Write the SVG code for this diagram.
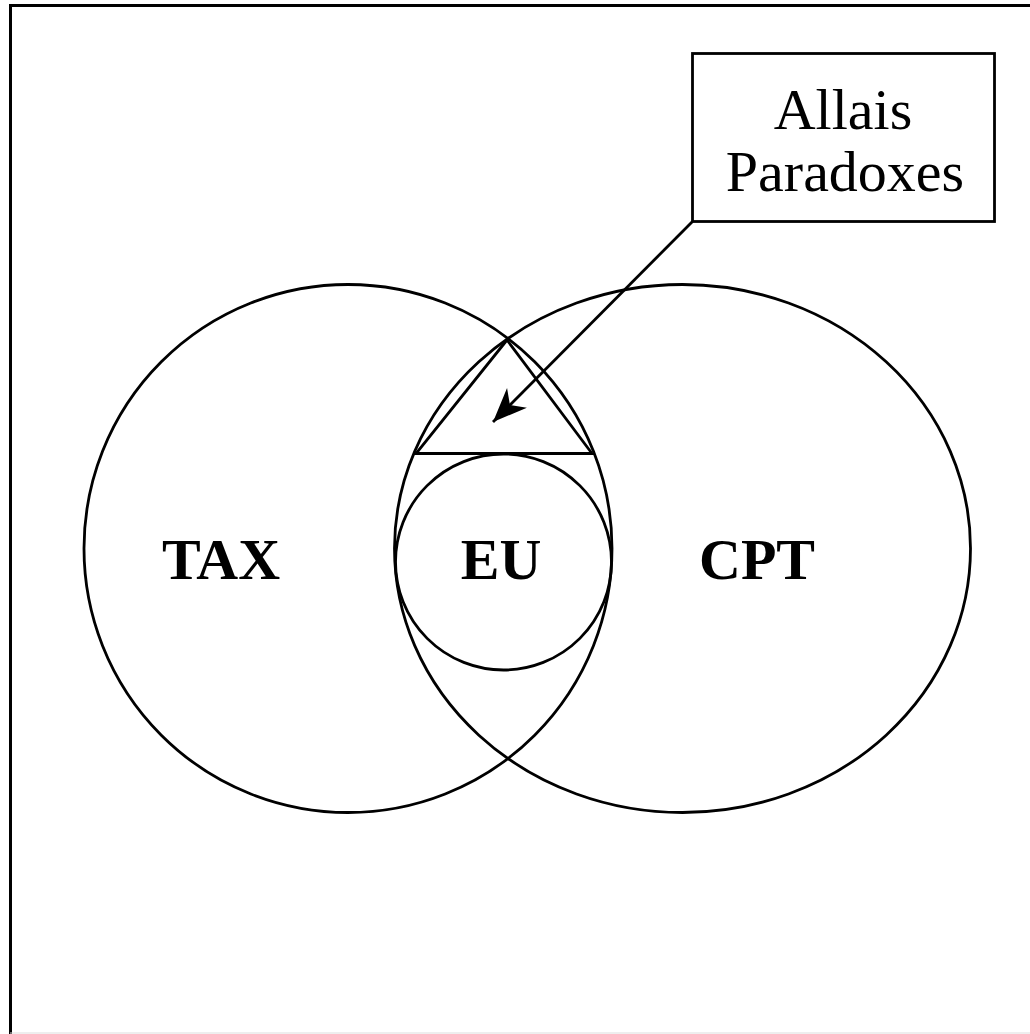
<svg xmlns="http://www.w3.org/2000/svg" width="1030" height="1034" viewBox="0 0 1030 1034">
<defs>
<style>
.ln{fill:none;stroke:#000;stroke-width:2.8}
.lbl{font-family:"Liberation Serif","Times New Roman",serif;font-size:58px;fill:#000;text-anchor:middle}
.big{font-family:"Liberation Serif","Times New Roman",serif;font-size:58px;font-weight:bold;fill:#000;text-anchor:middle}
</style>
<marker id="ah" markerWidth="36" markerHeight="30" refX="34" refY="14" orient="auto" markerUnits="userSpaceOnUse">
<path d="M0,0 L34,14 L0,28 L10,14 Z" fill="#000"/>
</marker>
</defs>
<rect width="1030" height="1034" fill="#fff"/>
<path d="M10.5,1034 L10.5,5.5 L1030,5.5" fill="none" stroke="#000" stroke-width="3"/>
<line x1="10" y1="1033" x2="1030" y2="1033" stroke="#ddd" stroke-width="1"/>
<g id="tax">
<circle class="ln" cx="348" cy="548.5" r="264"/>
<text class="big" x="221" y="579">TAX</text>
</g>
<g id="cpt">
<ellipse class="ln" cx="682.5" cy="548.5" rx="288" ry="264"/>
<text class="big" x="757" y="579">CPT</text>
</g>
<g id="eu">
<circle class="ln" cx="503.5" cy="562" r="108"/>
<text class="big" x="501" y="579">EU</text>
</g>
<g id="allais-region">
<polygon class="ln" points="507,340 416,453.5 592,453.5"/>
</g>
<g id="allais-box">
<rect class="ln" x="692.5" y="53.5" width="302" height="168"/>
<text class="lbl" x="843" y="129">Allais</text>
<text class="lbl" x="845" y="191">Paradoxes</text>
</g>
<g id="connectors">
<line class="ln" x1="692.5" y1="221.5" x2="493" y2="422" marker-end="url(#ah)"/>
</g>
</svg>
